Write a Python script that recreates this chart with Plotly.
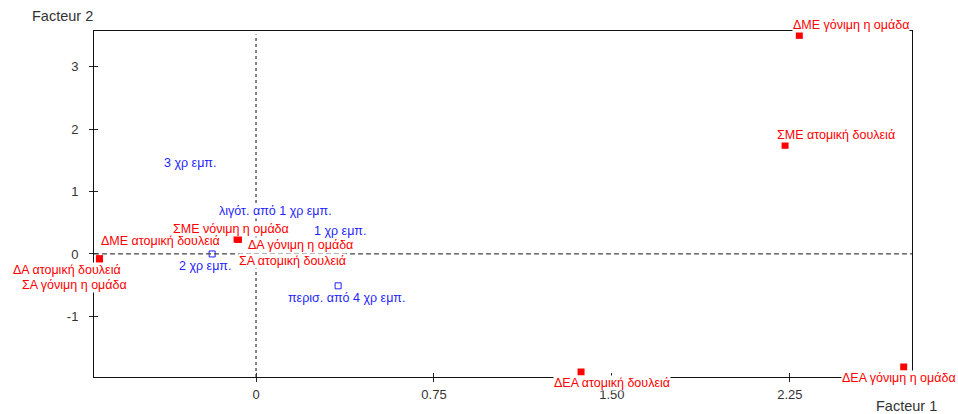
import plotly.graph_objects as go

# Active modalities (red) on the first factorial plane
red_labels = [
    "ΔΜΕ γόνιμη η ομάδα", "ΣΜΕ ατομική δουλειά", "ΔΕΑ γόνιμη η ομάδα",
    "ΔΕΑ ατομική δουλειά", "ΣΜΕ νόνιμη η ομάδα", "ΔΑ γόνιμη η ομάδα",
    "ΣΑ ατομική δουλειά", "ΔΜΕ ατομική δουλειά", "ΔΑ ατομική δουλειά",
    "ΣΑ γόνιμη η ομάδα",
]
red_f1 = [2.29, 2.23, 2.73, 1.37, -0.08, -0.075, -0.075, -0.66, -0.66, -0.66]
red_f2 = [3.50, 1.74, -1.81, -1.89, 0.24, 0.235, 0.235, -0.08, -0.08, -0.08]

# Supplementary modalities (blue): years of experience
blue_labels = [
    "3 χρ εμπ.", "λιγότ. από 1 χρ εμπ.", "1 χρ εμπ.", "2 χρ εμπ.",
    "περισ. από 4 χρ εμπ.",
]
blue_f1 = [-0.28, 0.08, 0.355, -0.185, 0.346]
blue_f2 = [1.46, 0.69, 0.37, 0.0, -0.51]

x_ticks = [0, 0.75, 1.50, 2.25]
x_tick_text = ["0", "0.75", "1.50", "2.25"]
y_ticks = [-1, 0, 1, 2, 3]
y_tick_text = ["-1", "0", "1", "2", "3"]

# label placement relative to each point, in screen pixels (dx right, dy down)
red_dx = [52, 51, -5, 31, -6, 62, 54, 61, -32, -25]
red_dy = [-10, -10, 11, 11, -10, 6, 22, -18, 11, 26]
blue_dx = [0, 0, 0, -7, 8]
blue_dy = [0, 0, 0, 12, 12]

RED = "#ff0000"
BLUE = "#1f1fff"
FONT = "Liberation Sans, Arial, sans-serif"
LABEL_SIZE = 12.5
X_RANGE = [-0.683, 2.765]
Y_RANGE = [-1.97, 3.57]

fig = go.Figure()
fig.add_trace(go.Scatter(
    x=blue_f1, y=blue_f2, mode="markers",
    marker=dict(symbol="square-open", size=6, color=BLUE, line=dict(width=1, color=BLUE)),
    hoverinfo="skip", showlegend=False,
))
fig.add_trace(go.Scatter(
    x=red_f1, y=red_f2, mode="markers",
    marker=dict(symbol="square", size=7, color=RED, line=dict(width=0)),
    hoverinfo="skip", showlegend=False,
))
# empty trace to carry the inward tick marks
fig.add_trace(go.Scatter(x=[], y=[], xaxis="x2", yaxis="y2", showlegend=False))

# dashed reference lines through the origin
fig.add_shape(type="line", xref="x", yref="paper", x0=0, x1=0, y0=0, y1=0.99,
              line=dict(color="#444444", width=1.3, dash="3px,3px"), layer="above")
fig.add_shape(type="line", xref="paper", yref="y", x0=0, x1=1, y0=0, y1=0,
              line=dict(color="#444444", width=1.3, dash="5px,3px"), layer="above")

annotations = []
for lab, x, y, dx, dy in zip(red_labels, red_f1, red_f2, red_dx, red_dy):
    annotations.append(dict(x=x, y=y, text=lab, showarrow=False, xshift=dx, yshift=-dy,
                            font=dict(color=RED, size=LABEL_SIZE, family=FONT),
                            bgcolor="white", borderpad=0))
for lab, x, y, dx, dy in zip(blue_labels, blue_f1, blue_f2, blue_dx, blue_dy):
    annotations.append(dict(x=x, y=y, text=lab, showarrow=False, xshift=dx, yshift=-dy,
                            font=dict(color=BLUE, size=LABEL_SIZE, family=FONT),
                            bgcolor="white", borderpad=0))
annotations.append(dict(xref="paper", yref="paper", x=0, y=1, xanchor="right", yanchor="bottom",
                        xshift=1, yshift=5, text="Facteur 2", showarrow=False,
                        font=dict(color="#333333", size=14.5, family=FONT)))
annotations.append(dict(xref="paper", yref="paper", x=1, y=0, xanchor="right", yanchor="top",
                        xshift=27, yshift=-19, text="Facteur 1", showarrow=False,
                        font=dict(color="#333333", size=14.5, family=FONT)))

axis_common = dict(showgrid=False, zeroline=False, ticks="outside", ticklen=4,
                   tickcolor="#222222", tickwidth=1,
                   tickfont=dict(size=13, color="#333333", family=FONT))

fig.update_layout(
    width=958, height=414,
    margin=dict(l=94, r=46, t=31, b=37),
    plot_bgcolor="white", paper_bgcolor="white",
    xaxis=dict(range=X_RANGE, tickvals=x_ticks, ticktext=x_tick_text,
               showline=True, linecolor="#111111", linewidth=1, mirror=True,
               ticklabelstandoff=1, **axis_common),
    yaxis=dict(range=Y_RANGE, tickvals=y_ticks, ticktext=y_tick_text,
               showline=True, linecolor="#111111", linewidth=1, mirror=True,
               ticklabelstandoff=8, **axis_common),
    xaxis2=dict(range=X_RANGE, overlaying="x", anchor="y", side="bottom",
                tickvals=x_ticks, showticklabels=False, showgrid=False, zeroline=False,
                ticks="inside", ticklen=4, tickcolor="#222222", showline=False),
    yaxis2=dict(range=Y_RANGE, overlaying="y", anchor="x", side="left",
                tickvals=y_ticks, showticklabels=False, showgrid=False, zeroline=False,
                ticks="inside", ticklen=4, tickcolor="#222222", showline=False),
    annotations=annotations,
    showlegend=False,
)

fig.write_html("out.html")
